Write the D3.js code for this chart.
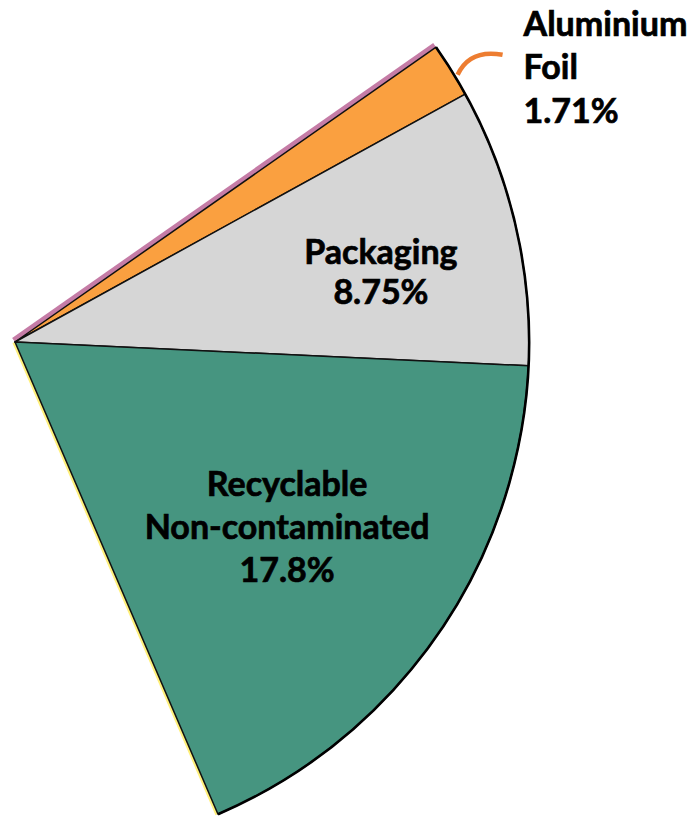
<!DOCTYPE html>
<html>
<head>
<meta charset="utf-8">
<script src="https://cdn.jsdelivr.net/npm/d3@7"></script>
<style>
  html, body { margin: 0; padding: 0; background: #ffffff; }
  svg { display: block; }
  text { font-family: Lato, "Open Sans", sans-serif; font-weight: 700; fill: #000;
         stroke: #000; stroke-width: 0.7px; }
</style>
</head>
<body>
<svg id="chart" width="700" height="817"></svg>
<script>
// Share of waste stream (percent of the whole pie); the remainder is not drawn.
const categories = ["Aluminium Foil", "Packaging", "Recyclable Non-contaminated", "Remainder"];
const shares = [1.71, 8.75, 17.8, 71.74];
const valueLabels = ["1.71%", "8.75%", "17.8%", ""];
const nameLines = [["Aluminium", "Foil"], ["Packaging"], ["Recyclable", "Non-contaminated"], []];
const sliceColors = ["#FAA040", "#D6D6D6", "#469580", "none"];

const svg = d3.select("#chart");
const cx = 15, cy = 342, R = 514;
const deg = Math.PI / 180;
const start = 55 * deg;

const pie = d3.pie().sort(null).value(d => d)
  .startAngle(start).endAngle(start + 2 * Math.PI);
const arcs = pie(shares).map((a, i) => ({ ...a, i }));
const shown = arcs.filter(a => sliceColors[a.i] !== "none");

const arc = d3.arc().innerRadius(0).outerRadius(R);
const g = svg.append("g").attr("transform", `translate(${cx},${cy})`);

const polar = (ang, r) => [r * Math.sin(ang), -r * Math.cos(ang)];

// thin coloured bands along the outer straight edges
const first = shown[0], last = shown[shown.length - 1];
g.append("line")
  .attr("x1", 0).attr("y1", 0)
  .attr("x2", polar(first.startAngle, R)[0]).attr("y2", polar(first.startAngle, R)[1])
  .attr("stroke", "#C57CA6").attr("stroke-width", 10);
g.append("line")
  .attr("x1", 0).attr("y1", 0)
  .attr("x2", polar(last.endAngle, R)[0]).attr("y2", polar(last.endAngle, R)[1])
  .attr("stroke", "#FFF07A").attr("stroke-width", 5.5);

// slices
g.selectAll("path.slice").data(shown).join("path")
  .attr("class", "slice")
  .attr("d", arc)
  .attr("fill", d => sliceColors[d.i])
  .attr("stroke", "#111")
  .attr("stroke-width", 1.5)
  .attr("stroke-linejoin", "round");

// heavier outer rim
const rim = d3.arc().innerRadius(R).outerRadius(R)
  .startAngle(first.startAngle).endAngle(last.endAngle);
g.append("path").attr("d", rim()).attr("fill", "none")
  .attr("stroke", "#000").attr("stroke-width", 2.6);

// labels
const fs = 34;
const labelLayout = {
  1: { r: 0.725, da: 2.2 * deg, pitch: 40, anchor: "middle" },
  2: { r: 0.64, da: -0.5 * deg, pitch: 43, anchor: "middle" }
};

shown.forEach(d => {
  const lines = nameLines[d.i].concat([valueLabels[d.i]]);
  const mid = (d.startAngle + d.endAngle) / 2;
  const L = labelLayout[d.i];
  if (L) {
    const [x, y] = polar(mid + L.da, R * L.r);
    const t = g.append("text").attr("text-anchor", L.anchor).attr("font-size", fs);
    lines.forEach((s, k) => {
      t.append("tspan").attr("x", x)
        .attr("y", y + (k - (lines.length - 1) / 2) * L.pitch + fs * 0.36)
        .text(s);
    });
  } else {
    // outside label with curved leader
    const [sx, sy] = polar(mid + 0.8 * deg, R + 3);
    const ex = sx + 45, ey = sy - 20;
    g.append("path")
      .attr("d", `M${sx},${sy} Q${sx + 12},${sy - 26} ${ex},${ey}`)
      .attr("fill", "none").attr("stroke", "#ED7D31")
      .attr("stroke-width", 4.5).attr("stroke-linecap", "butt");
    const lx = ex + 21, ly = ey - 19;
    const t = g.append("text").attr("text-anchor", "start").attr("font-size", fs);
    lines.forEach((s, k) => {
      t.append("tspan").attr("x", lx).attr("y", ly + k * 43.5).text(s);
    });
  }
});
</script>
</body>
</html>
